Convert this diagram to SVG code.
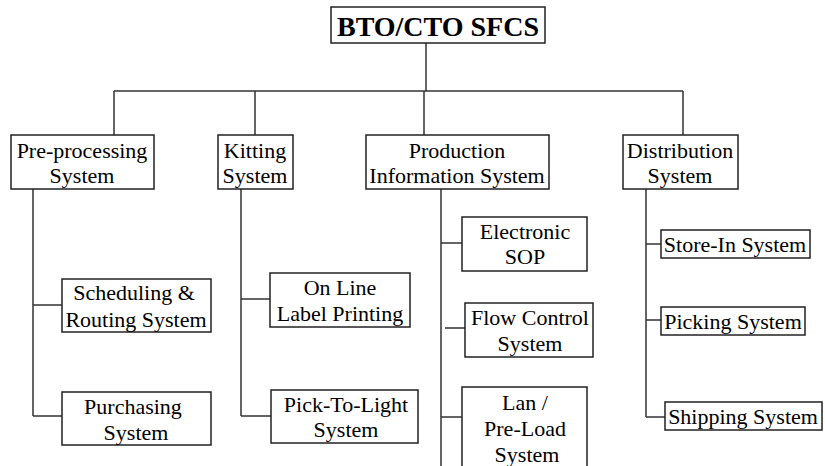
<svg xmlns="http://www.w3.org/2000/svg" width="825" height="466" viewBox="0 0 825 466">
  <style>
    .box { fill: #ffffff; stroke: #222222; stroke-width: 1.5; }
    .wire { fill: none; stroke: #333333; stroke-width: 1.5; }
    .lbl { font-family: 'Liberation Serif', Tinos, 'Times New Roman', 'DejaVu Serif', serif; font-size: 22px; fill: #000000; text-anchor: middle; }
    .title { font-size: 28px; font-weight: bold; }
  </style>
  <rect width="825" height="466" fill="#ffffff"/>

  <!-- connectors -->
  <g id="connectors" class="wire">
    <path d="M426 43 V91"/>
    <path d="M114 91 H683"/>
    <path d="M114 91 V135 M255 91 V135 M424 91 V135 M683 91 V135"/>
    <!-- pre-processing branch -->
    <path d="M33 189 V416 M33 305 H62 M33 416 H62"/>
    <!-- kitting branch -->
    <path d="M241 189 V416 M241 299 H270 M241 416 H271"/>
    <!-- production branch -->
    <path d="M441 189 V466 M441 243 H462 M445 328 H465 M441 417 H462"/>
    <!-- distribution branch -->
    <path d="M646 189 V417 M646 244 H661 M646 320 H661 M646 417 H665"/>
  </g>

  <g class="lbl" font-family="Liberation Serif, serif">
    <g id="root">
      <rect class="box" x="331" y="7" width="214" height="36"/>
      <text class="title" x="438" y="36">BTO/CTO SFCS</text>
    </g>

    <g id="preprocessing">
      <rect class="box" x="11" y="135" width="143" height="54"/>
      <text x="82" y="158">Pre-processing</text>
      <text x="82" y="183">System</text>
    </g>
    <g id="kitting">
      <rect class="box" x="218" y="135" width="75" height="54"/>
      <text x="255" y="158">Kitting</text>
      <text x="255" y="183">System</text>
    </g>
    <g id="production">
      <rect class="box" x="366" y="135" width="183" height="54"/>
      <text x="457" y="158">Production</text>
      <text x="457" y="183">Information System</text>
    </g>
    <g id="distribution">
      <rect class="box" x="623" y="135" width="115" height="54"/>
      <text x="680" y="158">Distribution</text>
      <text x="680" y="183">System</text>
    </g>

    <g id="scheduling">
      <rect class="box" x="62" y="279" width="149" height="53"/>
      <text x="134" y="300">Scheduling &amp;</text>
      <text x="136" y="327">Routing System</text>
    </g>
    <g id="purchasing">
      <rect class="box" x="62" y="392" width="149" height="53"/>
      <text x="133" y="414">Purchasing</text>
      <text x="136" y="440">System</text>
    </g>

    <g id="online-label">
      <rect class="box" x="270" y="273" width="140" height="54"/>
      <text x="340" y="295">On Line</text>
      <text x="340" y="321">Label Printing</text>
    </g>
    <g id="pick-to-light">
      <rect class="box" x="271" y="390" width="147" height="53"/>
      <text x="346" y="412">Pick-To-Light</text>
      <text x="346" y="437">System</text>
    </g>

    <g id="electronic-sop">
      <rect class="box" x="462" y="217" width="125" height="54"/>
      <text x="525" y="239">Electronic</text>
      <text x="525" y="264">SOP</text>
    </g>
    <g id="flow-control">
      <rect class="box" x="465" y="303" width="128" height="54"/>
      <text x="530" y="325">Flow Control</text>
      <text x="530" y="351">System</text>
    </g>
    <g id="lan-preload">
      <rect class="box" x="462" y="387" width="125" height="85"/>
      <text x="525" y="410">Lan /</text>
      <text x="525" y="436">Pre-Load</text>
      <text x="527" y="462">System</text>
    </g>

    <g id="store-in">
      <rect class="box" x="661" y="230" width="149" height="28"/>
      <text x="735" y="252">Store-In System</text>
    </g>
    <g id="picking">
      <rect class="box" x="661" y="307" width="144" height="28"/>
      <text x="733" y="329">Picking System</text>
    </g>
    <g id="shipping">
      <rect class="box" x="665" y="402" width="157" height="28"/>
      <text x="743" y="424">Shipping System</text>
    </g>
  </g>
</svg>
